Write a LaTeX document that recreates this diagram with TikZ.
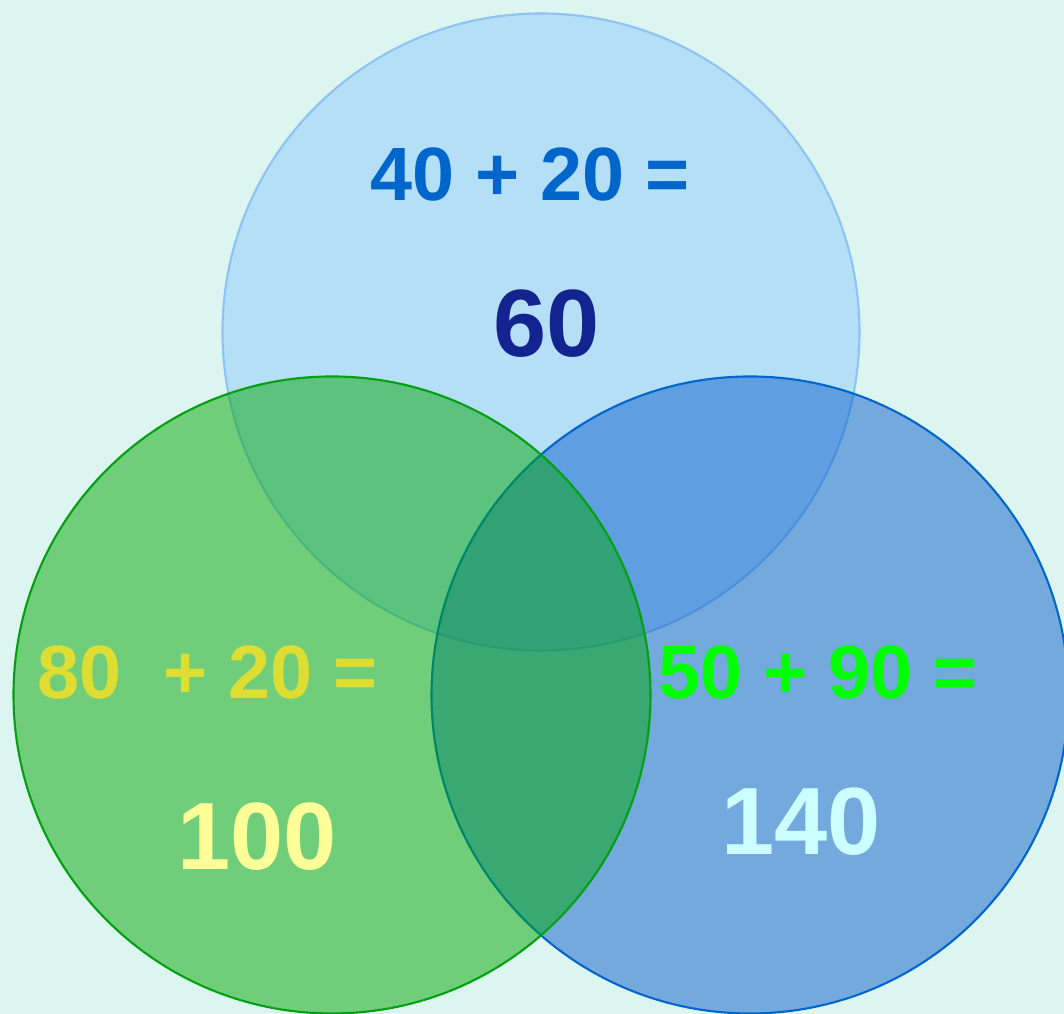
\documentclass[tikz,border=0pt]{standalone}
\usepackage{fontspec}
\setmainfont{Liberation Sans}
\usepackage{xcolor}
\usetikzlibrary{positioning}
\definecolor{Mint}{HTML}{DDF5F0}
\definecolor{TopFill}{HTML}{B5DFF6}
\definecolor{TopEdge}{HTML}{8EC3F5}
\definecolor{RightFill}{HTML}{0A5FCB}
\definecolor{RightEdge}{HTML}{0066CC}
\definecolor{LeftFill}{HTML}{00A703}
\definecolor{LeftEdge}{HTML}{00A010}
\definecolor{SumTop}{HTML}{0066CC}
\definecolor{ResTop}{HTML}{13238F}
\definecolor{SumLeft}{HTML}{DDDD33}
\definecolor{ResLeft}{HTML}{FFFF99}
\definecolor{SumRight}{HTML}{00FF00}
\definecolor{ResRight}{HTML}{CCFFFF}

\begin{document}
\begin{tikzpicture}[
  setc/.style={circle,minimum size=6.37cm,inner sep=0pt,line width=0.6pt},
  sumtxt/.style={font=\bfseries\fontsize{21.5}{26}\selectfont,inner sep=0pt},
  restxt/.style={font=\bfseries\fontsize{27.2}{32}\selectfont,inner sep=0pt}
]
\fill[Mint] (0,0) rectangle (10.64,10.14);
\clip (0,0) rectangle (10.64,10.14);
% the three sets
\node[setc,draw=TopEdge,fill=TopFill] (topset) at (5.41,6.82) {};
\node[setc,draw=RightEdge,fill=RightFill,fill opacity=0.5] (rightset) at (7.50,3.19) {};
\node[setc,draw=LeftEdge,fill=LeftFill,fill opacity=0.49] (leftset) at (3.32,3.19) {};
% sums
\node[sumtxt,text=SumTop] (sumtop) at (5.30,8.39) {40 + 20 =};
\node[restxt,text=ResTop] (restop) at (5.47,6.90) {60};
\node[sumtxt,text=SumLeft] (sumleft) at (2.08,3.41) {80 \ + 20 =};
\node[restxt,text=ResLeft] (resleft) at (2.57,1.77) {100};
\node[sumtxt,text=SumRight] (sumright) at (8.18,3.41) {50 + 90 =};
\node[restxt,text=ResRight] (resright) at (8.01,1.92) {140};
\end{tikzpicture}
\end{document}
